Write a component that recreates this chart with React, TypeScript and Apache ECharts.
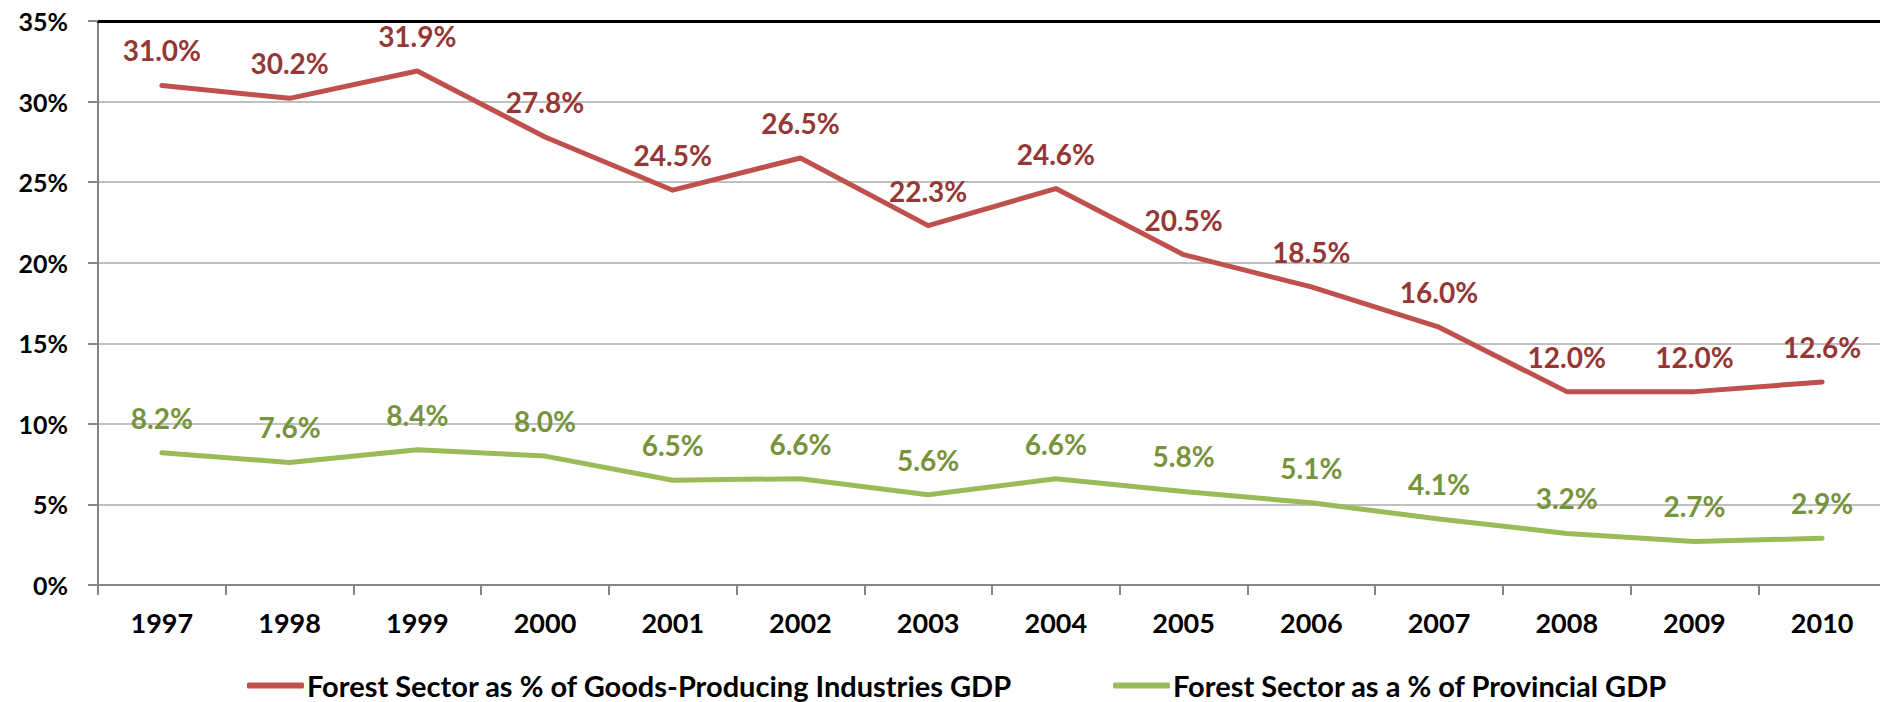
import React, { useEffect, useRef } from "react";
import * as echarts from "echarts";

const years = ["1997", "1998", "1999", "2000", "2001", "2002", "2003", "2004", "2005", "2006", "2007", "2008", "2009", "2010"];
const goodsProducingShare = [31.0, 30.2, 31.9, 27.8, 24.5, 26.5, 22.3, 24.6, 20.5, 18.5, 16.0, 12.0, 12.0, 12.6];
const provincialShare = [8.2, 7.6, 8.4, 8.0, 6.5, 6.6, 5.6, 6.6, 5.8, 5.1, 4.1, 3.2, 2.7, 2.9];
const seriesNames = [
  "Forest Sector as % of Goods-Producing Industries GDP",
  "Forest Sector as a % of Provincial GDP",
];

const FONT = "Lato";

export default function App() {
  const ref = useRef<HTMLDivElement>(null);
  useEffect(() => {
    if (!ref.current) return;
    const chart = echarts.init(ref.current, undefined, { renderer: "svg" });
    const axisGray = "#868686";
    const labelFmt = (p: any) => Number(p.value).toFixed(1) + "%";
    const legendText = { fontFamily: FONT, fontWeight: "bold", fontSize: 29, color: "#000", padding: [0, 0, 0, -2] };
    chart.setOption({
      animation: false,
      backgroundColor: "#ffffff",
      textStyle: { fontFamily: FONT },
      grid: { left: 98, right: 4, top: 21, bottom: 117, containLabel: false },
      legend: [
        {
          data: [seriesNames[0]],
          left: 247,
          top: 671,
          padding: 0,
          icon: "roundRect",
          itemWidth: 57,
          itemHeight: 6,
          itemGap: 0,
          textStyle: legendText,
        },
        {
          data: [seriesNames[1]],
          left: 1113,
          top: 671,
          padding: 0,
          icon: "roundRect",
          itemWidth: 57,
          itemHeight: 6,
          itemGap: 0,
          textStyle: legendText,
        },
      ],
      xAxis: [
        {
          type: "category",
          data: years,
          boundaryGap: true,
          axisLine: { lineStyle: { color: axisGray, width: 2 } },
          axisTick: { show: true, length: 10, lineStyle: { color: axisGray, width: 2 } },
          axisLabel: { fontFamily: FONT, fontWeight: "bold", fontSize: 27, color: "#000", margin: 24, interval: 0 },
          splitLine: { show: false },
        },
        {
          type: "category",
          data: years,
          position: "top",
          axisLine: { lineStyle: { color: "#000", width: 3 } },
          axisTick: { show: false },
          axisLabel: { show: false },
          splitLine: { show: false },
        },
      ],
      yAxis: {
        type: "value",
        min: 0,
        max: 35,
        interval: 5,
        axisLine: { show: true, lineStyle: { color: axisGray, width: 2 } },
        axisTick: { show: true, length: 10, lineStyle: { color: axisGray, width: 2 } },
        axisLabel: {
          fontFamily: FONT,
          fontWeight: "bold",
          fontSize: 25,
          color: "#000",
          margin: 30,
          formatter: "{value}%",
        },
        splitLine: { show: true, lineStyle: { color: "#C0C0C0", width: 2 } },
      },
      series: [
        {
          name: seriesNames[0],
          type: "line",
          data: goodsProducingShare,
          showSymbol: true,
          symbol: "circle",
          symbolSize: 0.1,
          lineStyle: { color: "#C0504D", width: 5, cap: "round", join: "round" },
          itemStyle: { color: "#C0504D" },
          label: {
            show: true,
            position: "top",
            distance: 21,
            formatter: labelFmt,
            fontFamily: FONT,
            fontWeight: "bold",
            fontSize: 28,
            color: "#953735",
          },
        },
        {
          name: seriesNames[1],
          type: "line",
          data: provincialShare,
          showSymbol: true,
          symbol: "circle",
          symbolSize: 0.1,
          lineStyle: { color: "#9BBB59", width: 5, cap: "round", join: "round" },
          itemStyle: { color: "#9BBB59" },
          label: {
            show: true,
            position: "top",
            distance: 21,
            formatter: labelFmt,
            fontFamily: FONT,
            fontWeight: "bold",
            fontSize: 28,
            color: "#77933C",
          },
        },
      ],
    });
    return () => chart.dispose();
  }, []);
  return (
    <div style={{ position: "fixed", left: 0, top: 0, width: 1880, height: 702, overflow: "hidden", background: "#fff" }}>
      <div ref={ref} style={{ width: 1890, height: 702 }} />
    </div>
  );
}
